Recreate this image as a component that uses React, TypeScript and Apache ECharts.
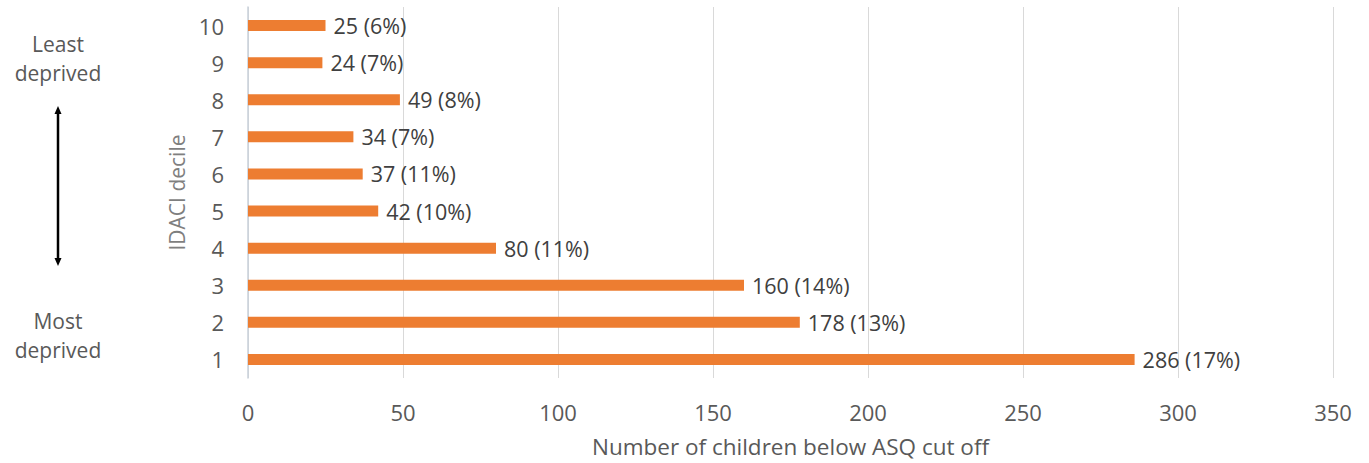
import React, { useEffect, useRef } from "react";
import * as echarts from "echarts";

// IDACI deciles, most deprived (1) at the bottom
const deciles = ["1", "2", "3", "4", "5", "6", "7", "8", "9", "10"];
// Number of children below the ASQ cut off in each decile
const childrenBelow = [286, 178, 160, 80, 42, 37, 34, 49, 24, 25];
// Share of the decile's children below the cut off (%)
const sharePct = [17, 13, 14, 11, 10, 11, 7, 8, 7, 6];

const FONT = "'Open Sans', sans-serif";
const TEXT = "#595959";

export default function App() {
  const ref = useRef<HTMLDivElement>(null);

  useEffect(() => {
    if (!ref.current) return;
    const chart = echarts.init(ref.current, null, { renderer: "svg" });
    chart.setOption({
      animation: false,
      backgroundColor: "#ffffff",
      textStyle: { fontFamily: FONT },
      grid: { left: 248, right: 36, top: 7, bottom: 85, containLabel: false },
      xAxis: {
        type: "value",
        min: 0,
        max: 350,
        interval: 50,
        name: "Number of children below ASQ cut off",
        nameLocation: "middle",
        nameGap: 57,
        nameTextStyle: { color: TEXT, fontSize: 22.5, fontFamily: FONT },
        axisLine: { show: false },
        axisTick: { show: false },
        axisLabel: { color: TEXT, fontSize: 22, fontFamily: FONT, margin: 23 },
        splitLine: { show: true, lineStyle: { color: "#D9D9D9", width: 1 } },
      },
      yAxis: {
        type: "category",
        data: deciles,
        name: "IDACI decile",
        nameLocation: "middle",
        nameGap: 55,
        nameTextStyle: { color: "#7f7f7f", fontSize: 21, fontFamily: FONT },
        axisLine: { show: true, lineStyle: { color: "#C9D0DA", width: 1.5 } },
        axisTick: { show: false },
        axisLabel: { color: TEXT, fontSize: 22, fontFamily: FONT, margin: 24 },
        splitLine: { show: false },
      },
      series: [
        {
          type: "bar",
          data: childrenBelow,
          barWidth: 11,
          itemStyle: { color: "#ED7D31" },
          label: {
            show: true,
            position: "right",
            distance: 8,
            color: "#404040",
            fontSize: 21.5,
            fontFamily: FONT,
            formatter: (p: any) => `${p.value} (${sharePct[p.dataIndex]}%)`,
          },
        },
      ],
      graphic: [
        {
          type: "text",
          style: {
            x: 58,
            y: 58,
            text: "Least\ndeprived",
            fill: TEXT,
            font: `21px ${FONT}`,
            lineHeight: 29,
            align: "center",
            verticalAlign: "middle",
          },
        },
        {
          type: "text",
          style: {
            x: 58,
            y: 335,
            text: "Most\ndeprived",
            fill: TEXT,
            font: `21px ${FONT}`,
            lineHeight: 29,
            align: "center",
            verticalAlign: "middle",
          },
        },
        {
          type: "line",
          shape: { x1: 58, y1: 112, x2: 58, y2: 260 },
          style: { stroke: "#000000", lineWidth: 2.5 },
        },
        {
          type: "polygon",
          shape: { points: [[58, 106], [54.5, 114], [61.5, 114]] },
          style: { fill: "#000000" },
        },
        {
          type: "polygon",
          shape: { points: [[58, 266], [54.5, 258], [61.5, 258]] },
          style: { fill: "#000000" },
        },
      ],
    });
    return () => chart.dispose();
  }, []);

  return (
    <div
      ref={ref}
      style={{ position: "fixed", left: 0, top: 0, width: 1369, height: 463, background: "#fff" }}
    />
  );
}
